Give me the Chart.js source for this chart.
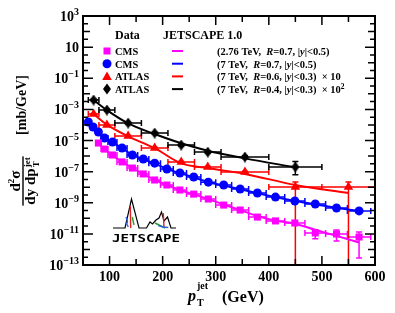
<!DOCTYPE html>
<html>
<head>
<meta charset="utf-8">
<script src="https://cdn.jsdelivr.net/npm/chart.js@4.4.1/dist/chart.umd.min.js"></script>
<style>
  html, body { margin: 0; padding: 0; background: #fff; }
  #wrap { width: 395px; height: 313px; }
</style>
</head>
<body>
<div id="wrap"><canvas id="chart" width="395" height="313"></canvas></div>
<script>
// CMS 2.76 TeV, R=0.7, |y|<0.5
const cms276X = [79, 90.5, 105.5, 123.5, 143, 163.5, 185, 208, 232.5, 258.5, 286, 315, 346, 378.5, 412.5, 449, 487.5, 527.5, 570];
const cms276Lo = [74, 84, 97, 114, 133, 153, 174, 196, 220, 245, 272, 300, 330, 362, 395, 430, 468, 507, 548];
const cms276Hi = [84, 97, 114, 133, 153, 174, 196, 220, 245, 272, 300, 330, 362, 395, 430, 468, 507, 548, 592];
const cms276Y = [6.9e-6, 2.8e-6, 1.17e-6, 4.2e-7, 1.7e-7, 7.1e-8, 2.9e-8, 1.38e-8, 6.6e-9, 3.6e-9, 1.74e-9, 7.1e-10, 3.4e-10, 1.2e-10, 6.8e-11, 5.0e-11, 1.15e-11, 9.8e-12, 6.3e-12];
const cms276Up = [0.08, 0.08, 0.08, 0.08, 0.08, 0.08, 0.08, 0.08, 0.08, 0.08, 0.08, 0.08, 0.1, 0.1, 0.15, 0.2, 0.58, 0.82, 1.09];
const cms276Dn = [0.08, 0.08, 0.08, 0.08, 0.08, 0.08, 0.08, 0.08, 0.08, 0.08, 0.08, 0.08, 0.1, 0.1, 0.15, 0.2, 0.58, 0.65, 0.955];
const cms276Theory = [6.9e-6, 2.8e-6, 1.12e-6, 4.2e-7, 1.7e-7, 7.1e-8, 3.0e-8, 1.38e-8, 6.6e-9, 3.5e-9, 1.74e-9, 7.6e-10, 3.4e-10, 1.41e-10, 7.1e-11, 4.5e-11, 1.82e-11, 7.4e-12, 2.8e-12];

// CMS 7 TeV, R=0.7, |y|<0.5
const cms7X = [60, 69, 79, 90.5, 105.5, 123.5, 143, 163.5, 185, 208, 232.5, 258.5, 286, 315, 346, 378.5, 412.5, 449, 487.5, 527.5, 570];
const cms7Lo = [56, 64, 74, 84, 97, 114, 133, 153, 174, 196, 220, 245, 272, 300, 330, 362, 395, 430, 468, 507, 548];
const cms7Hi = [64, 74, 84, 97, 114, 133, 153, 174, 196, 220, 245, 272, 300, 330, 362, 395, 430, 468, 507, 548, 592];
const cms7Y = [1.55e-4, 7.4e-5, 3.5e-5, 1.45e-5, 7.9e-6, 3.3e-6, 1.17e-6, 6.5e-7, 3.5e-7, 1.48e-7, 8.1e-8, 4.5e-8, 2.1e-8, 1.38e-8, 7.6e-9, 4.2e-9, 2.3e-9, 1.29e-9, 8.3e-10, 4.6e-10, 3.0e-10];
const cms7Err = [0.06, 0.06, 0.06, 0.06, 0.06, 0.06, 0.06, 0.06, 0.06, 0.06, 0.06, 0.06, 0.06, 0.06, 0.06, 0.06, 0.06, 0.08, 0.08, 0.1, 0.1];
const cms7Theory = [1.5e-4, 7.2e-5, 3.4e-5, 1.5e-5, 7.6e-6, 3.2e-6, 1.2e-6, 6.3e-7, 3.3e-7, 1.5e-7, 8.0e-8, 4.3e-8, 2.1e-8, 1.3e-8, 7.4e-9, 4.1e-9, 2.3e-9, 1.3e-9, 8.0e-10, 4.7e-10, 2.9e-10];

// ATLAS 7 TeV, R=0.6, |y|<0.3, x10
const atlas6X = [70, 95, 135, 185, 235, 285, 355, 450, 550];
const atlas6Lo = [60, 80, 110, 160, 210, 260, 310, 400, 500];
const atlas6Hi = [80, 110, 160, 210, 260, 310, 400, 500, 600];
const atlas6Y = [5.0e-4, 9.8e-5, 1.95e-5, 3.3e-6, 4.2e-7, 2.0e-7, 9.3e-8, 1.02e-8, 1.02e-8];
const atlas6Up = [0.1, 0.1, 0.1, 0.1, 0.1, 0.1, 0.12, 1.09, 1.09];
const atlas6Dn = [0.1, 0.1, 0.1, 0.1, 0.1, 0.1, 0.12, 1, 1];
const atlas6Theory = [5.0e-4, 1.05e-4, 1.86e-5, 3.2e-6, 3.4e-7, 1.7e-7, 7.1e-8, 1.38e-8, 4.2e-9];

// ATLAS 7 TeV, R=0.4, |y|<0.3, x10^2
const atlas4X = [70, 95, 135, 185, 235, 285, 355, 450];
const atlas4Lo = [60, 80, 110, 160, 210, 260, 310, 400];
const atlas4Hi = [80, 110, 160, 210, 260, 310, 400, 500];
const atlas4Y = [4.0e-3, 9.1e-4, 1.32e-4, 3.0e-5, 5.1e-6, 1.8e-6, 8.7e-7, 2.0e-7];
const atlas4Up = [0.15, 0.15, 0.15, 0.15, 0.15, 0.15, 0.2, 1.24];
const atlas4Dn = [0.15, 0.15, 0.15, 0.15, 0.15, 0.15, 0.2, 0.68];
const atlas4Theory = [4.0e-3, 8.9e-4, 1.26e-4, 2.6e-5, 6.6e-6, 2.2e-6, 7.1e-7, 1.9e-7];

// axis ticks
const xTickLabels = [100, 200, 300, 400, 500, 600];
const yTickExps = [3, 1, -1, -3, -5, -7, -9, -11, -13];

const MAGENTA = '#ff00ff', BLUE = '#0000ff', RED = '#ff0000', BLACK = '#000000';
const SERIF = '"Liberation Serif", "Times New Roman", serif';

const pts = (xs, ys) => xs.map((x, i) => ({ x, y: ys[i] }));

// ROOT-like diamond marker
function diamond(w, h, color) {
  const c = document.createElement('canvas');
  c.width = w; c.height = h;
  const g = c.getContext('2d');
  g.fillStyle = color;
  g.beginPath();
  g.moveTo(w / 2, 0); g.lineTo(w, h / 2); g.lineTo(w / 2, h); g.lineTo(0, h / 2);
  g.closePath(); g.fill();
  return c;
}
const diamondMark = diamond(8, 11, BLACK);

function rich(ctx, x, y, parts) {
  for (const [t, font, dy] of parts) {
    ctx.font = font;
    ctx.fillText(t, x, y + (dy || 0));
    x += ctx.measureText(t).width;
  }
  return x;
}
function richWidth(ctx, parts) {
  let w = 0;
  for (const [t, font] of parts) { ctx.font = font; w += ctx.measureText(t).width; }
  return w;
}

function errorBars(chart, xs, lo, hi, ys, up, dn, color) {
  const { ctx, chartArea: a, scales: { x, y } } = chart;
  const cap = 3;
  ctx.save();
  ctx.beginPath();
  ctx.rect(a.left, a.top, a.right - a.left, a.bottom - a.top);
  ctx.clip();
  ctx.strokeStyle = color;
  ctx.lineWidth = 1.5;
  ctx.beginPath();
  for (let i = 0; i < xs.length; i++) {
    const cx = x.getPixelForValue(xs[i]);
    const cy = y.getPixelForValue(ys[i]);
    const x0 = x.getPixelForValue(lo[i]);
    const x1 = x.getPixelForValue(hi[i]);
    ctx.moveTo(x0, cy); ctx.lineTo(x1, cy);
    ctx.moveTo(x0, cy - cap); ctx.lineTo(x0, cy + cap);
    ctx.moveTo(x1, cy - cap); ctx.lineTo(x1, cy + cap);
    const yTop = y.getPixelForValue(ys[i] * (1 + up[i]));
    const yBot = dn[i] >= 1 ? a.bottom + 5 : y.getPixelForValue(ys[i] * (1 - dn[i]));
    ctx.moveTo(cx, yTop); ctx.lineTo(cx, yBot);
    ctx.moveTo(cx - cap, yTop); ctx.lineTo(cx + cap, yTop);
    if (dn[i] < 1) { ctx.moveTo(cx - cap, yBot); ctx.lineTo(cx + cap, yBot); }
  }
  ctx.stroke();
  ctx.restore();
}

const errorPlugin = {
  id: 'errors',
  beforeDatasetsDraw(chart) {
    errorBars(chart, cms276X, cms276Lo, cms276Hi, cms276Y, cms276Up, cms276Dn, MAGENTA);
    errorBars(chart, cms7X, cms7Lo, cms7Hi, cms7Y, cms7Err, cms7Err, BLUE);
    errorBars(chart, atlas6X, atlas6Lo, atlas6Hi, atlas6Y, atlas6Up, atlas6Dn, RED);
    errorBars(chart, atlas4X, atlas4Lo, atlas4Hi, atlas4Y, atlas4Up, atlas4Dn, BLACK);
  }
};

function drawLogo(ctx, a) {
  const L = a.left, B = a.bottom;
  const P = (dx, dy) => [L + dx, B + dy];
  ctx.save();
  ctx.lineWidth = 1.2;
  ctx.strokeStyle = '#000';
  const outline = [[30, -37], [42, -37], [48.5, -66], [56, -37], [63.5, -37], [67, -43], [69.5, -41], [73, -45], [76, -47], [78.5, -53], [81, -44], [84.5, -48], [88, -37], [93, -37]];
  ctx.beginPath();
  outline.forEach(([dx, dy], i) => { const [px, py] = P(dx, dy); i ? ctx.lineTo(px, py) : ctx.moveTo(px, py); });
  ctx.stroke();
  const strokes = [
    ['#e02020', [[47.3, -59], [47.7, -37]]],
    ['#3060e0', [[43, -48], [44.5, -44], [43.8, -41], [45.3, -38]]],
    ['#20a020', [[49.3, -48], [51, -40]]],
    ['#e02020', [[80.3, -52], [81, -37]]],
    ['#20a020', [[72, -42], [82, -37]]],
    ['#3060e0', [[75.3, -39.5], [80, -38], [85.3, -37.5]]]
  ];
  ctx.lineWidth = 1.4;
  for (const [col, line] of strokes) {
    ctx.strokeStyle = col;
    ctx.beginPath();
    line.forEach(([dx, dy], i) => { const [px, py] = P(dx, dy); i ? ctx.lineTo(px, py) : ctx.moveTo(px, py); });
    ctx.stroke();
  }
  ctx.fillStyle = '#000';
  ctx.font = 'bold 11px "DejaVu Sans Mono", monospace';
  ctx.textBaseline = 'alphabetic';
  const w = ctx.measureText('JETSCAPE').width;
  ctx.translate(L + 29, B - 23);
  ctx.scale(68 / w, 1);
  ctx.fillText('JETSCAPE', 0, 0);
  ctx.restore();
}

function legendMarker(ctx, kind, x, y, color) {
  ctx.fillStyle = color;
  ctx.beginPath();
  if (kind === 'square') ctx.rect(x - 3.5, y - 3.5, 7, 7);
  else if (kind === 'circle') ctx.arc(x, y, 4.5, 0, Math.PI * 2);
  else if (kind === 'triangle') { ctx.moveTo(x, y - 5); ctx.lineTo(x + 4.8, y + 3.5); ctx.lineTo(x - 4.8, y + 3.5); ctx.closePath(); }
  else { ctx.moveTo(x, y - 5.5); ctx.lineTo(x + 4, y); ctx.lineTo(x, y + 5.5); ctx.lineTo(x - 4, y); ctx.closePath(); }
  ctx.fill();
}

const framePlugin = {
  id: 'frame',
  afterDatasetsDraw(chart) {
    const { ctx, chartArea: a, scales: { x, y } } = chart;
    drawLogo(ctx, a);

    ctx.save();
    ctx.strokeStyle = '#000';
    ctx.lineWidth = 1.5;
    ctx.beginPath();
    for (let v = 50; v <= 600; v += 50) {
      const px = x.getPixelForValue(v);
      const len = v % 100 === 0 ? 9 : 6;
      ctx.moveTo(px, a.bottom); ctx.lineTo(px, a.bottom - len);
      ctx.moveTo(px, a.top); ctx.lineTo(px, a.top + len);
    }
    for (let e = -13; e <= 3; e += 0.5) {
      const py = y.getPixelForValue(Math.pow(10, e));
      const len = Number.isInteger(e) ? (Math.abs(e) % 2 === 1 ? 10 : 7) : 5;
      ctx.moveTo(a.left, py); ctx.lineTo(a.left + len, py);
      ctx.moveTo(a.right, py); ctx.lineTo(a.right - len, py);
    }
    ctx.stroke();
    ctx.lineWidth = 2;
    ctx.strokeRect(a.left, a.top, a.right - a.left, a.bottom - a.top);

    // tick labels
    ctx.fillStyle = '#000';
    ctx.textBaseline = 'alphabetic';
    ctx.font = 'bold 14px ' + SERIF;
    ctx.textAlign = 'center';
    for (const v of xTickLabels) ctx.fillText(String(v), x.getPixelForValue(v), a.bottom + 16);
    ctx.textAlign = 'left';
    for (const e of yTickExps) {
      const py = y.getPixelForValue(Math.pow(10, e));
      const parts = e === 1
        ? [['10', 'bold 14px ' + SERIF, 0]]
        : [['10', 'bold 14px ' + SERIF, 0], [String(e).replace('-', '\u2212'), 'bold 10px ' + SERIF, -6]];
      const w = richWidth(ctx, parts);
      rich(ctx, a.left - 4 - w, py + 5, parts);
    }

    // x title
    let tx = rich(ctx, 188, 301, [['p', 'bold italic 16px ' + SERIF, 0]]);
    rich(ctx, tx + 1, 289, [['jet', 'bold 10px ' + SERIF, 0]]);
    rich(ctx, tx + 1, 306, [['T', 'bold 10px ' + SERIF, 0]]);
    rich(ctx, 222, 302, [['(GeV)', 'bold 16px ' + SERIF, 0]]);

    // y title (rotated)
    ctx.save();
    ctx.translate(23, 181);
    ctx.rotate(-Math.PI / 2);
    const num = [['d', 'bold 15px ' + SERIF, 0], ['2', 'bold 9px ' + SERIF, -6], ['\u03c3', 'bold 15px ' + SERIF, 0]];
    const den = [['dy dp', 'bold 15px ' + SERIF, 0]];
    const nw = richWidth(ctx, num);
    ctx.font = 'bold 15px ' + SERIF;
    const dw0 = ctx.measureText('dy dp').width;
    ctx.font = 'bold 9px ' + SERIF;
    const jw = ctx.measureText('jet').width;
    const dw = dw0 + jw + 1;
    rich(ctx, -nw / 2, -3, num);
    ctx.fillRect(-dw / 2 - 1, -0.7, dw + 2, 1.4);
    rich(ctx, -dw / 2, 12, den);
    rich(ctx, -dw / 2 + dw0 + 1, 7, [['jet', 'bold 9px ' + SERIF, 0]]);
    rich(ctx, -dw / 2 + dw0 + 1, 16, [['T', 'bold 9px ' + SERIF, 0]]);
    ctx.font = 'bold 14px ' + SERIF;
    ctx.textAlign = 'center';
    ctx.fillText('[mb/GeV]', 76, 3);
    ctx.restore();

    // legend
    const H = 'bold 12px ' + SERIF, F = 'bold 10.5px ' + SERIF, FI = 'bold italic 10.5px ' + SERIF, FS = 'bold 7.5px ' + SERIF;
    ctx.textAlign = 'left';
    rich(ctx, 115, 39, [['Data', H, 0]]);
    rich(ctx, 163, 39, [['JETSCAPE 1.0', H, 0]]);
    const rows = [
      ['square', MAGENTA, 'CMS', [['(2.76 TeV,  ', F], ['R', FI], ['=0.7, |', F], ['y', FI], ['|<0.5)', F]]],
      ['circle', BLUE, 'CMS', [['(7 TeV,  ', F], ['R', FI], ['=0.7, |', F], ['y', FI], ['|<0.5)', F]]],
      ['triangle', RED, 'ATLAS', [['(7 TeV,  ', F], ['R', FI], ['=0.6, |', F], ['y', FI], ['|<0.3)  \u00d7 10', F]]],
      ['diamond', BLACK, 'ATLAS', [['(7 TeV,  ', F], ['R', FI], ['=0.4, |', F], ['y', FI], ['|<0.3)  \u00d7 10', F], ['2', FS, -4]]]
    ];
    rows.forEach(([kind, col, name, text], i) => {
      const ry = 51 + i * 12.7;
      legendMarker(ctx, kind, 107, ry, col);
      ctx.fillStyle = '#000';
      rich(ctx, 115, ry + 4, [[name, F, 0]]);
      ctx.strokeStyle = col;
      ctx.lineWidth = 2;
      ctx.beginPath(); ctx.moveTo(172, ry); ctx.lineTo(183, ry); ctx.stroke();
      ctx.fillStyle = '#000';
      rich(ctx, 217, ry + 4, text);
    });
    ctx.restore();
  }
};

const theory = (xs, ys, color) => ({
  data: pts(xs, ys), showLine: true, pointRadius: 0, borderColor: color, borderWidth: 2,
  cubicInterpolationMode: 'monotone', fill: false
});
const measured = (xs, ys, style, r, color) => ({
  data: pts(xs, ys), showLine: false, pointStyle: style, pointRadius: r,
  backgroundColor: color, borderColor: color, borderWidth: 0
});

new Chart(document.getElementById('chart'), {
  type: 'scatter',
  data: {
    datasets: [
      measured(cms276X, cms276Y, 'rect', 5, MAGENTA),
      measured(cms7X, cms7Y, 'circle', 4.5, BLUE),
      measured(atlas6X, atlas6Y, 'triangle', 5.5, RED),
      measured(atlas4X, atlas4Y, diamondMark, 5, BLACK),
      theory(cms276X, cms276Theory, MAGENTA),
      theory(cms7X, cms7Theory, BLUE),
      theory(atlas6X, atlas6Theory, RED),
      theory(atlas4X, atlas4Theory, BLACK)
    ]
  },
  options: {
    responsive: false,
    animation: false,
    devicePixelRatio: 1,
    layout: { padding: { top: 16, right: 20, left: 0, bottom: 0 } },
    plugins: { legend: { display: false }, tooltip: { enabled: false } },
    scales: {
      x: {
        type: 'linear', min: 50, max: 600,
        grid: { display: false, drawTicks: false }, border: { display: false },
        ticks: { display: false },
        afterFit(s) { s.height = 48; }
      },
      y: {
        type: 'logarithmic', min: 1e-13, max: 1e3,
        grid: { display: false, drawTicks: false }, border: { display: false },
        ticks: { display: false },
        afterFit(s) { s.width = 83; }
      }
    }
  },
  plugins: [errorPlugin, framePlugin]
});
</script>
</body>
</html>
